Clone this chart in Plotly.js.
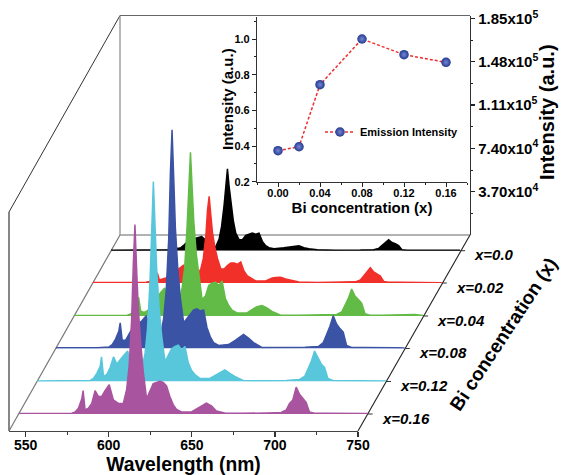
<!DOCTYPE html>
<html>
<head>
<meta charset="utf-8">
<script src="https://cdn.plot.ly/plotly-3.0.1.min.js"></script>
<style>html,body{margin:0;padding:0;background:#fff}</style>
</head>
<body>
<div id="chart" style="width:562px;height:475px"></div>
<script>
// Wavelength grid (nm) shared by all spectra
const wavelength = [540,565,572,574,576, 578,578.8,580,582,584, 586,588,590,592,594.5, 597,600,603,605,606.5,
  608,609,610,611,612, 613.5,615,617,619,621, 623,625,627,629,631, 633,635,638,644,648,
  650,653,656,659,664, 675,690,698,701,703, 705,707,709,711,713, 715,718,725,735,745, 750];

// Intensities in units of 10^3 counts
const x000 = [.3,.3,.4,.9,1.3, 2,2.6,2,2.6,5, 7.7,9.4,10,11,12, 9,4.3,3.4,10,21,
  39,58,70,55,41, 26,15,9.4,9.4,13, 14,15,14,15,8, 4.3,2.6,1.7,2.6,3.4,
  3.9,4.3,2.6,1.7,.9, .4,.5,.9,2,4.3, 7,9.4,7,6,4.3, .9,.4,.4,.4,.4, .3];
const x002 = [.4,.4,.6,1.3,2.6, 5,8.6,2.6,3.4,4.3, 6,8,10,12,15, 9,7,7,12,21,
  40,62,74,58,43, 30,21,12,12,15, 17,17,16,18,10, 6,4.3,1.7,1.7,4.3,
  4.7,5,3.4,2.6,.9, .5,.7,1,2.6,6, 9.4,13,9.4,8,6, 1.3,.6,.6,.6,.7, .3];
const x004 = [.4,.4,.7,1.7,4.3, 9,16,4.3,3,4.3, 7,10,15,20,24, 13,10,10,24,41,
  77,116,140,110,81, 53,34,14,17,26, 28,29,26,30,15, 9,5,2.6,2.6,6,
  8,9,7,4,.9, .6,.9,1.3,3.4,9, 15,23,17,14,11, 2,.7,.7,.7,1.3, .4];
const x008 = [.6,.6,1.3,3.4,8, 15,22,7,7,12, 17,15,21,24,28, 15,11,11,26,50,
  94,150,187,146,103, 67,43,22,26,30, 33,34,32,33,18, 10,5,2.6,3.4,7,
  9,12,9,5,.9, .7,1,1.7,5,12, 19,28,21,17,14, 2.6,.9,.9,1,.7, .5];
const x012 = [.5,.5,.9,2.6,7, 13,21,4.3,6,12, 21,15,19,22,26, 14,10,10,24,45,
  86,137,171,133,96, 62,39,17,22,28, 30,31,27,30,16, 9.4,6,2.6,2.6,6,
  7.7,10,7,4.3,.9, .6,.9,1.7,4.3,11, 17,26,20,15,12, 2.6,.9,.9,.9,.9, .5];
const x016 = [.4,.4,.6,1.7,5, 13,20,3.4,5,9, 20,15,15,20,25, 12,9,9,21,41,
  81,128,162,124,90, 60,36,13,19,26, 27,28,27,24,15, 8,4,1.7,1.7,5,
  7,9.4,7,2.6,.9, .6,.9,1.3,3.4,9, 12,23,17,13,10, 1.7,.7,.7,.6,.9, .4];

const seriesValues = [x000,x002,x004,x008,x012,x016];
const seriesLabels = ['x=0.0','x=0.02','x=0.04','x=0.08','x=0.12','x=0.16'];
const seriesColors = ['#000000','#f2302a','#62bb46','#3a53a4','#58c6db','#a9549f'];

// Inset
const insetX = [0,0.02,0.04,0.08,0.12,0.16];
const insetY = [0.374,0.396,0.744,1.0,0.912,0.869];

// Right axis
const intensityTicks = [37,74,111,148,185];
const intensityText = ['3.70x10<sup>4</sup>','7.40x10<sup>4</sup>','1.11x10<sup>5</sup>','1.48x10<sup>5</sup>','1.85x10<sup>5</sup>'];

// --- geometry (page pixels) ---
const W=562,H=475;
const px=x=>x/W, py=y=>1-y/H;
const FRONT={l:9,r:358,b:431}, BACK={l:120,r:470,b:235,t:15.5}, FRONT_TOP=212;
const PXK=1.17;               // pixels per 10^3 counts
const baselines=[250.7,283,316,348.5,381.5,414];
const leftAt=y=>FRONT.l+(FRONT.b-y)*(BACK.l-FRONT.l)/(FRONT.b-BACK.b);
const FONT='"Liberation Sans", Arial, sans-serif';
const bold=(size,color)=>({family:FONT,size:size,color:color||'#000',weight:700});

const traces=[{x:[540,750],y:[0,0],xaxis:'x',yaxis:'y',mode:'lines',line:{width:0},showlegend:false,hoverinfo:'skip'}];
const layout={
  width:W,height:H,autosize:false,margin:{l:0,r:0,t:0,b:0},
  paper_bgcolor:'#fff',plot_bgcolor:'rgba(0,0,0,0)',
  font:{family:FONT},
  hovermode:false,
  xaxis:{domain:[px(FRONT.l),px(FRONT.r)],range:[540,750],anchor:'free',position:py(FRONT.b),
    tickvals:[550,600,650,700,750],ticks:'outside',ticklen:5,tickwidth:1.3,tickcolor:'#333',
    minor:{tickvals:[575,625,675,725],ticks:'outside',ticklen:3,tickwidth:1,tickcolor:'#333'},
    showgrid:false,zeroline:false,showline:true,linecolor:'#444',linewidth:1.4,
    tickfont:bold(14),tickangle:0,ticklabelstandoff:-4,
    title:{text:'Wavelength (nm)',font:bold(19.3),standoff:7}},
  yaxis:{domain:[py(BACK.b),py(BACK.t)],range:[0,(BACK.b-BACK.t)/PXK],anchor:'free',position:px(BACK.r),side:'right',
    tickvals:intensityTicks,ticktext:intensityText,ticks:'outside',ticklen:4,tickwidth:1.3,tickcolor:'#222',
    minor:{tickvals:[18.5,55.5,92.5,129.5,166.5],ticks:'outside',ticklen:2,tickwidth:1,tickcolor:'#222'},
    showgrid:false,zeroline:false,showline:true,linecolor:'#333',linewidth:1.2,tickfont:bold(15)},
  shapes:[],
  annotations:[],
  showlegend:true,
  legend:{x:px(320),y:py(117.5),xanchor:'left',yanchor:'top',bgcolor:'rgba(0,0,0,0)',font:bold(11),itemwidth:30,borderwidth:0}
};
const frame=(x0,y0,x1,y1,c,w)=>layout.shapes.push({type:'line',xref:'paper',yref:'paper',layer:'below',
  x0:px(x0),y0:py(y0),x1:px(x1),y1:py(y1),line:{color:c,width:w}});
frame(FRONT.l,FRONT_TOP,FRONT.l,FRONT.b,'#555',1.4);
frame(FRONT.l,FRONT_TOP,BACK.l,BACK.t,'#333',1);
frame(BACK.l,BACK.t,BACK.l,BACK.b,'#888',1.2);
frame(FRONT.l,FRONT.b,BACK.l,BACK.b,'#777',1.2);
frame(BACK.l,BACK.t,BACK.r,BACK.t,'#666',1.2);
frame(BACK.l,BACK.b,BACK.r,BACK.b,'#999',1.4);
frame(FRONT.r,FRONT.b,BACK.r,BACK.b,'#222',1.1);

seriesValues.forEach((vals,i)=>{
  const n=i+2, b=baselines[i], l=leftAt(b), r=l+(FRONT.r-FRONT.l);
  layout['xaxis'+n]={domain:[px(l),px(r)],range:[540,750],anchor:'y'+n,visible:false};
  layout['yaxis'+n]={domain:[py(b),py(b-200*PXK)],range:[0,200],anchor:'x'+n,visible:false};
  traces.push({x:wavelength,y:vals,xaxis:'x'+n,yaxis:'y'+n,mode:'lines',fill:'tozeroy',
    fillcolor:seriesColors[i],line:{color:seriesColors[i],width:1.5},cliponaxis:false,showlegend:false,hoverinfo:'skip'});
  frame(r,b,r+5,b,'#333',1);
  layout.annotations.push({xref:'paper',yref:'paper',x:px(r+12),y:py(b+4),xanchor:'left',yanchor:'middle',showarrow:false,
    text:seriesLabels[i],font:{family:FONT,size:15,color:'#000',weight:700,style:'italic'}});
});

// inset
layout.xaxis8={domain:[px(257),px(467)],range:[-0.02,0.18],anchor:'y8',
  tickvals:[0,0.04,0.08,0.12,0.16],ticktext:['0.00','0.04','0.08','0.12','0.16'],ticks:'outside',ticklen:4,tickcolor:'#222',tickwidth:1,
  minor:{tickvals:[-0.02,0.02,0.06,0.10,0.14,0.18],ticks:'outside',ticklen:2,tickcolor:'#222',tickwidth:1},
  showgrid:false,zeroline:false,showline:true,linecolor:'#333',linewidth:1.1,tickfont:bold(11),ticklabelstandoff:-3,
  title:{text:'Bi concentration (x)',font:bold(15),standoff:1}};
layout.yaxis8={domain:[py(181.7),py(16.7)],range:[0.2,1.125],anchor:'x8',
  tickvals:[0.2,0.4,0.6,0.8,1.0],ticktext:['0.2','0.4','0.6','0.8','1.0'],ticks:'outside',ticklen:4,tickcolor:'#222',tickwidth:1,
  minor:{tickvals:[0.3,0.5,0.7,0.9,1.1],ticks:'outside',ticklen:2,tickcolor:'#222',tickwidth:1},
  showgrid:false,zeroline:false,showline:true,linecolor:'#333',linewidth:1.1,tickfont:bold(11)};
traces.push({x:insetX,y:insetY,xaxis:'x8',yaxis:'y8',mode:'lines+markers',name:'Emission Intensity',
  line:{color:'#ee2f2f',width:1.5,dash:'3px,2px'},
  marker:{size:9.5,color:'#24398f',gradient:{type:'radial',color:'#7488d4'},line:{width:0}},hoverinfo:'skip',cliponaxis:false});

// rotated labels
layout.annotations.push({xref:'paper',yref:'paper',x:px(227),y:py(99),xanchor:'center',yanchor:'middle',showarrow:false,
  text:'Intensity (a.u.)',textangle:-90,font:bold(15)});
layout.annotations.push({xref:'paper',yref:'paper',x:px(547),y:py(112),xanchor:'center',yanchor:'middle',showarrow:false,
  text:'Intensity (a.u.)',textangle:-90,font:bold(20)});
layout.annotations.push({xref:'paper',yref:'paper',x:px(503),y:py(334),xanchor:'center',yanchor:'middle',showarrow:false,
  text:'Bi concentration (x)',textangle:-56.6,font:bold(19)});

Plotly.newPlot('chart',traces,layout,{displayModeBar:false,staticPlot:true});
</script>
</body>
</html>
